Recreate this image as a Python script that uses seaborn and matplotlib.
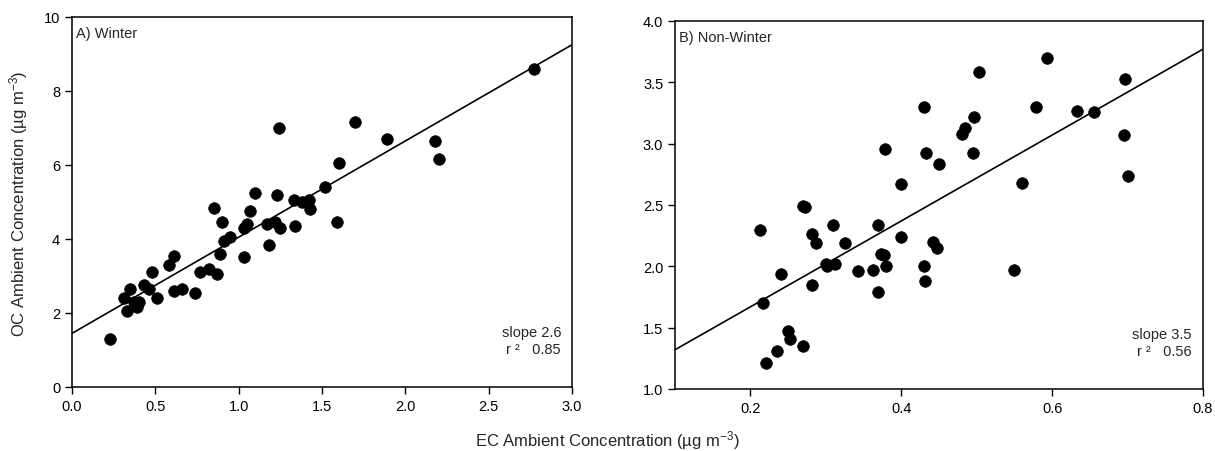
import numpy as np
import pandas as pd
import seaborn as sns
import matplotlib.pyplot as plt

# Winter EC / OC (ug m-3)
winter_ec = [0.23, 0.31, 0.33, 0.35, 0.37, 0.38, 0.39, 0.40, 0.43, 0.46,
             0.48, 0.51, 0.58, 0.61, 0.61, 0.66, 0.74, 0.77, 0.82, 0.87,
             0.85, 0.89, 0.90, 0.91, 0.95, 1.03, 1.03, 1.05, 1.07, 1.10,
             1.18, 1.17, 1.22, 1.23, 1.24, 1.25, 1.33, 1.34, 1.38, 1.42,
             1.43, 1.52, 1.59, 1.60, 1.70, 1.89, 2.18, 2.20, 2.77]
winter_oc = [1.30, 2.40, 2.05, 2.65, 2.30, 2.25, 2.15, 2.30, 2.75, 2.65,
             3.10, 2.40, 3.30, 3.55, 2.60, 2.65, 2.55, 3.10, 3.20, 3.05,
             4.85, 3.60, 4.45, 3.95, 4.05, 3.50, 4.30, 4.40, 4.75, 5.25,
             3.85, 4.40, 4.45, 5.20, 7.00, 4.30, 5.05, 4.35, 5.00, 5.05,
             4.80, 5.40, 4.45, 6.05, 7.15, 6.70, 6.65, 6.15, 8.60]
winter_fit = (2.6, 1.45)   # slope, intercept
winter_r2 = 0.85

# Non-winter EC / OC (ug m-3)
nonwinter_ec = [0.213, 0.216, 0.220, 0.235, 0.240, 0.250, 0.253, 0.270, 0.270, 0.272,
                0.282, 0.282, 0.287, 0.300, 0.302, 0.310, 0.312, 0.325, 0.343, 0.362,
                0.369, 0.369, 0.373, 0.377, 0.378, 0.380, 0.400, 0.400, 0.430, 0.430,
                0.432, 0.433, 0.442, 0.447, 0.450, 0.480, 0.485, 0.495, 0.497, 0.503,
                0.550, 0.560, 0.578, 0.593, 0.633, 0.655, 0.695, 0.697, 0.700]
nonwinter_oc = [2.30, 1.70, 1.21, 1.31, 1.94, 1.47, 1.41, 2.49, 1.35, 2.48,
                2.26, 1.85, 2.19, 2.02, 2.00, 2.34, 2.02, 2.19, 1.96, 1.97,
                2.34, 1.79, 2.10, 2.09, 2.96, 2.00, 2.24, 2.67, 3.30, 2.00,
                1.88, 2.92, 2.20, 2.15, 2.83, 3.08, 3.13, 2.92, 3.22, 3.58,
                1.97, 2.68, 3.30, 3.70, 3.27, 3.26, 3.07, 3.53, 2.74]
nonwinter_fit = (3.5, 0.97)
nonwinter_r2 = 0.56

sns.set_style("ticks")
plt.rcParams['font.family'] = ['Liberation Sans', 'DejaVu Sans']
plt.rcParams['mathtext.fontset'] = 'custom'
plt.rcParams['mathtext.rm'] = 'Liberation Sans'
plt.rcParams['mathtext.it'] = 'Liberation Sans:italic'
plt.rcParams['mathtext.default'] = 'regular'

fig = plt.figure(figsize=(12.15, 4.52), dpi=100)
ax1 = fig.add_axes([0.0593, 0.1416, 0.4115, 0.8186])
ax2 = fig.add_axes([0.5556, 0.1372, 0.4345, 0.8142])

panels = [
    (ax1, winter_ec, winter_oc, winter_fit, winter_r2, "A) Winter",
     (0, 3), np.arange(0, 3.01, 0.5), (0, 10), np.arange(0, 10.1, 2), "{:.1f}", "{:.0f}"),
    (ax2, nonwinter_ec, nonwinter_oc, nonwinter_fit, nonwinter_r2, "B) Non-Winter",
     (0.1, 0.8), np.arange(0.2, 0.81, 0.2), (1, 4), np.arange(1, 4.01, 0.5), "{:.1f}", "{:.1f}"),
]

for ax, ec, oc, fit, r2, title, xlim, xt, ylim, yt, xfmt, yfmt in panels:
    df = pd.DataFrame({'EC': ec, 'OC': oc})
    sns.scatterplot(data=df, x='EC', y='OC', ax=ax, color='black', s=70,
                    edgecolor='black', linewidth=0.5, zorder=3)
    slope, icpt = fit
    ax.axline((0, icpt), slope=slope, color='black', lw=1.2, zorder=2)
    ax.set_xlim(*xlim)
    ax.set_ylim(*ylim)
    ax.set_xticks(xt)
    ax.set_xticklabels([xfmt.format(v) for v in xt])
    ax.set_yticks(yt)
    ax.set_yticklabels([yfmt.format(v) for v in yt])
    ax.tick_params(direction='out', length=5, width=1, labelsize=10.5,
                   colors='black', top=False, right=False)
    for sp in ax.spines.values():
        sp.set_visible(True)
        sp.set_linewidth(1.1)
        sp.set_color('black')
    ax.set_xlabel('')
    ax.set_ylabel('')
    ax.text(0.008, 0.975, title, transform=ax.transAxes, ha='left', va='top',
            fontsize=10.5)
    ax.text(0.978, 0.085, f"slope {slope}\nr \u00b2   {r2:.2f}",
            transform=ax.transAxes, ha='right', va='bottom', fontsize=10.5,
            linespacing=1.25)

fig.text(0.5, 0.025, "EC Ambient Concentration (\u00b5g m$^{-3}$)",
         ha='center', va='center', fontsize=12)
fig.text(0.015, 0.55, "OC Ambient Concentration (\u00b5g m$^{-3}$)",
         ha='center', va='center', rotation=90, fontsize=12)

fig.savefig('out.png', dpi=100)
